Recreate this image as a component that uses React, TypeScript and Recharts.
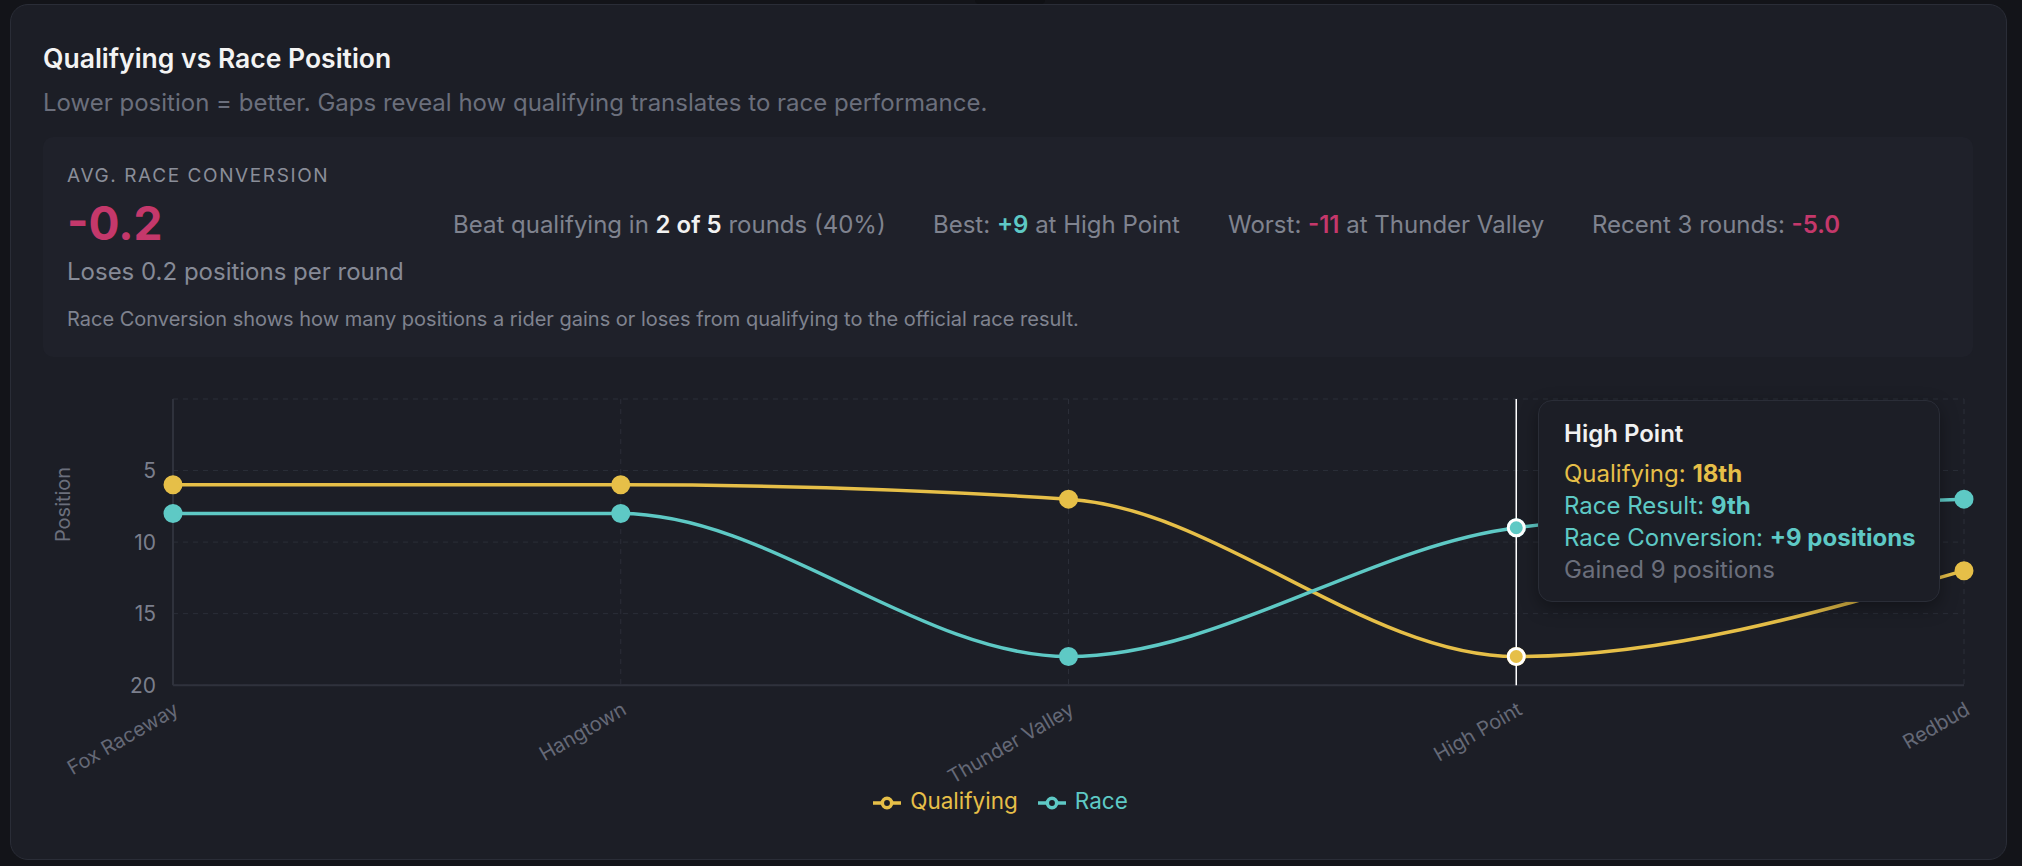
import { LineChart, Line, XAxis, YAxis, CartesianGrid, Tooltip, Legend } from 'recharts';

const tracks = ['Fox Raceway', 'Hangtown', 'Thunder Valley', 'High Point', 'Redbud'];
const qualifying = [6, 6, 7, 18, 12];
const race = [8, 8, 18, 9, 7];
const positionTicks = [0, 5, 10, 15, 20];

const QUALI = '#e6bf48';
const RACE = '#5ec9c5';
const PINK = '#c4386b';
const MUTED = '#7f838f';

const rows = tracks.map((track, i) => ({ track, qualifying: qualifying[i], race: race[i] }));

const conversions = rows.map((r) => r.qualifying - r.race);
const avgConversion = conversions.reduce((a, b) => a + b, 0) / conversions.length;
const beatCount = conversions.filter((c) => c > 0).length;
const bestIdx = conversions.indexOf(Math.max(...conversions));
const worstIdx = conversions.indexOf(Math.min(...conversions));
const recent = conversions.slice(0, 3).reduce((a, b) => a + b, 0) / 3;

function ordinal(n: number) {
  const s = ['th', 'st', 'nd', 'rd'];
  const v = n % 100;
  return n + (s[(v - 20) % 10] || s[v] || s[0]);
}

function signed(n: number) {
  return (n > 0 ? '+' : '') + n;
}

function PositionTooltip({ active, payload }: any) {
  if (!active || !payload || !payload.length) return null;
  const row = payload[0].payload;
  const diff = row.qualifying - row.race;
  const line = { height: 32, lineHeight: '32px', whiteSpace: 'nowrap' as const };
  return (
    <div
      style={{
        width: 402,
        height: 202,
        boxSizing: 'border-box',
        background: '#1c1e26',
        border: '1px solid #2a2d37',
        borderRadius: 14,
        padding: '17px 25px',
        boxShadow: '0 6px 18px rgba(0,0,0,0.35)',
        fontFamily: 'Inter',
        fontSize: 24,
      }}
    >
      <div style={{ ...line, color: '#f1f1f1', fontWeight: 600, marginBottom: 8 }}>{row.track}</div>
      <div style={{ ...line, color: QUALI }}>
        Qualifying: <b>{ordinal(row.qualifying)}</b>
      </div>
      <div style={{ ...line, color: RACE }}>
        Race Result: <b>{ordinal(row.race)}</b>
      </div>
      <div style={{ ...line, color: diff >= 0 ? RACE : PINK }}>
        Race Conversion: <b>{signed(diff)} positions</b>
      </div>
      <div style={{ ...line, color: '#6b6f7c' }}>
        {diff >= 0 ? 'Gained' : 'Lost'} {Math.abs(diff)} positions
      </div>
    </div>
  );
}

const text = (top: number, left: number, extra: any) => ({
  position: 'absolute' as const,
  top,
  left,
  whiteSpace: 'nowrap' as const,
  ...extra,
});

export default function App() {
  return (
    <div
      style={{
        position: 'fixed',
        left: 0,
        top: 0,
        width: 2022,
        height: 866,
        background: '#131419',
        fontFamily: 'Inter',
        overflow: 'hidden',
      }}
    >
      <div style={{ position: 'absolute', left: 975, top: 0, width: 70, height: 4, background: '#0f1014', borderRadius: '0 0 6px 6px' }} />
      <div
        style={{
          position: 'absolute',
          left: 10,
          top: 4,
          width: 1997,
          height: 856,
          boxSizing: 'border-box',
          background: '#1c1e26',
          border: '1px solid #2a2d37',
          borderRadius: 18,
        }}
      />

      <div style={text(42, 43, { fontSize: 26.5, lineHeight: '32px', fontWeight: 600, color: '#f3f3f3' })}>
        Qualifying vs Race Position
      </div>
      <div style={text(88, 43, { fontSize: 24, lineHeight: '30px', color: '#6b6f7c' })}>
        Lower position = better. Gaps reveal how qualifying translates to race performance.
      </div>

      <div style={{ position: 'absolute', left: 43, top: 137, width: 1930, height: 220, background: '#1f212a', borderRadius: 10 }} />
      <div style={text(164, 67, { fontSize: 19, lineHeight: '24px', letterSpacing: 1.6, color: '#8a8e99' })}>
        AVG. RACE CONVERSION
      </div>
      <div style={text(195, 67, { fontSize: 46, lineHeight: '56px', fontWeight: 700, color: PINK })}>
        {avgConversion.toFixed(1)}
      </div>
      <div style={text(257, 67, { fontSize: 24, lineHeight: '30px', color: '#868a96' })}>
        {avgConversion < 0 ? 'Loses' : 'Gains'} {Math.abs(avgConversion).toFixed(1)} positions per round
      </div>
      <div style={text(306, 67, { fontSize: 20, lineHeight: '26px', color: MUTED })}>
        Race Conversion shows how many positions a rider gains or loses from qualifying to the official race result.
      </div>

      <div style={text(210, 453, { fontSize: 24, lineHeight: '30px', color: MUTED })}>
        Beat qualifying in <b style={{ color: '#f2f2f2', fontWeight: 600 }}>{beatCount} of {rows.length}</b> rounds (
        {Math.round((beatCount / rows.length) * 100)}%)
      </div>
      <div style={text(210, 933, { fontSize: 24, lineHeight: '30px', color: MUTED })}>
        Best: <b style={{ color: RACE, fontWeight: 600 }}>{signed(conversions[bestIdx])}</b> at {tracks[bestIdx]}
      </div>
      <div style={text(210, 1228, { fontSize: 24, lineHeight: '30px', color: MUTED })}>
        Worst: <b style={{ color: PINK, fontWeight: 600 }}>{signed(conversions[worstIdx])}</b> at {tracks[worstIdx]}
      </div>
      <div style={text(210, 1592, { fontSize: 24, lineHeight: '30px', color: MUTED })}>
        Recent 3 rounds: <b style={{ color: PINK, fontWeight: 600 }}>{recent.toFixed(1)}</b>
      </div>

      <div style={{ position: 'absolute', left: 43, top: 369 }}>
        <LineChart width={1933} height={468} data={rows} margin={{ top: 30, right: 12, left: 0, bottom: 20 }}>
          <CartesianGrid stroke="#2b2e38" strokeDasharray="5 5" />
          <XAxis
            dataKey="track"
            interval={0}
            height={102}
            tickLine={false}
            tickMargin={10}
            axisLine={{ stroke: '#2f323c', strokeWidth: 2 }}
            angle={-30}
            textAnchor="end"
            tick={{ fill: '#656977', fontSize: 20 }}
          />
          <YAxis
            reversed
            domain={[0, 20]}
            ticks={positionTicks}
            tickFormatter={(v) => (v === 0 ? '' : String(v))}
            width={130}
            tickLine={false}
            tickMargin={11}
            axisLine={{ stroke: '#2f323c', strokeWidth: 2 }}
            tick={{ fill: '#7b7f8c', fontSize: 21 }}
            label={{ value: 'Position', angle: -90, position: 'insideLeft', offset: 20, fill: '#6b6f7c', fontSize: 20 }}
          />
          <Tooltip
            defaultIndex={3}
            active
            content={<PositionTooltip />}
            cursor={{ stroke: '#ffffff', strokeWidth: 1.5 }}
            position={{ x: 1495, y: 31 }}
            wrapperStyle={{ outline: 'none' }}
            isAnimationActive={false}
          />
          <Legend
            iconSize={28}
            wrapperStyle={{ fontSize: 22.5, left: 7 }}
            formatter={(value) => <span style={{ marginLeft: 5, marginRight: 10 }}>{value}</span>}
          />
          <Line
            type="monotone"
            dataKey="qualifying"
            name="Qualifying"
            stroke={QUALI}
            strokeWidth={3.5}
            dot={{ r: 8.5, fill: QUALI, stroke: QUALI, strokeWidth: 2 }}
            activeDot={{ r: 8, fill: QUALI, stroke: '#ffffff', strokeWidth: 3 }}
            isAnimationActive={false}
          />
          <Line
            type="monotone"
            dataKey="race"
            name="Race"
            stroke={RACE}
            strokeWidth={3.5}
            dot={{ r: 8.5, fill: RACE, stroke: RACE, strokeWidth: 2 }}
            activeDot={{ r: 8, fill: RACE, stroke: '#ffffff', strokeWidth: 3 }}
            isAnimationActive={false}
          />
        </LineChart>
      </div>
    </div>
  );
}
